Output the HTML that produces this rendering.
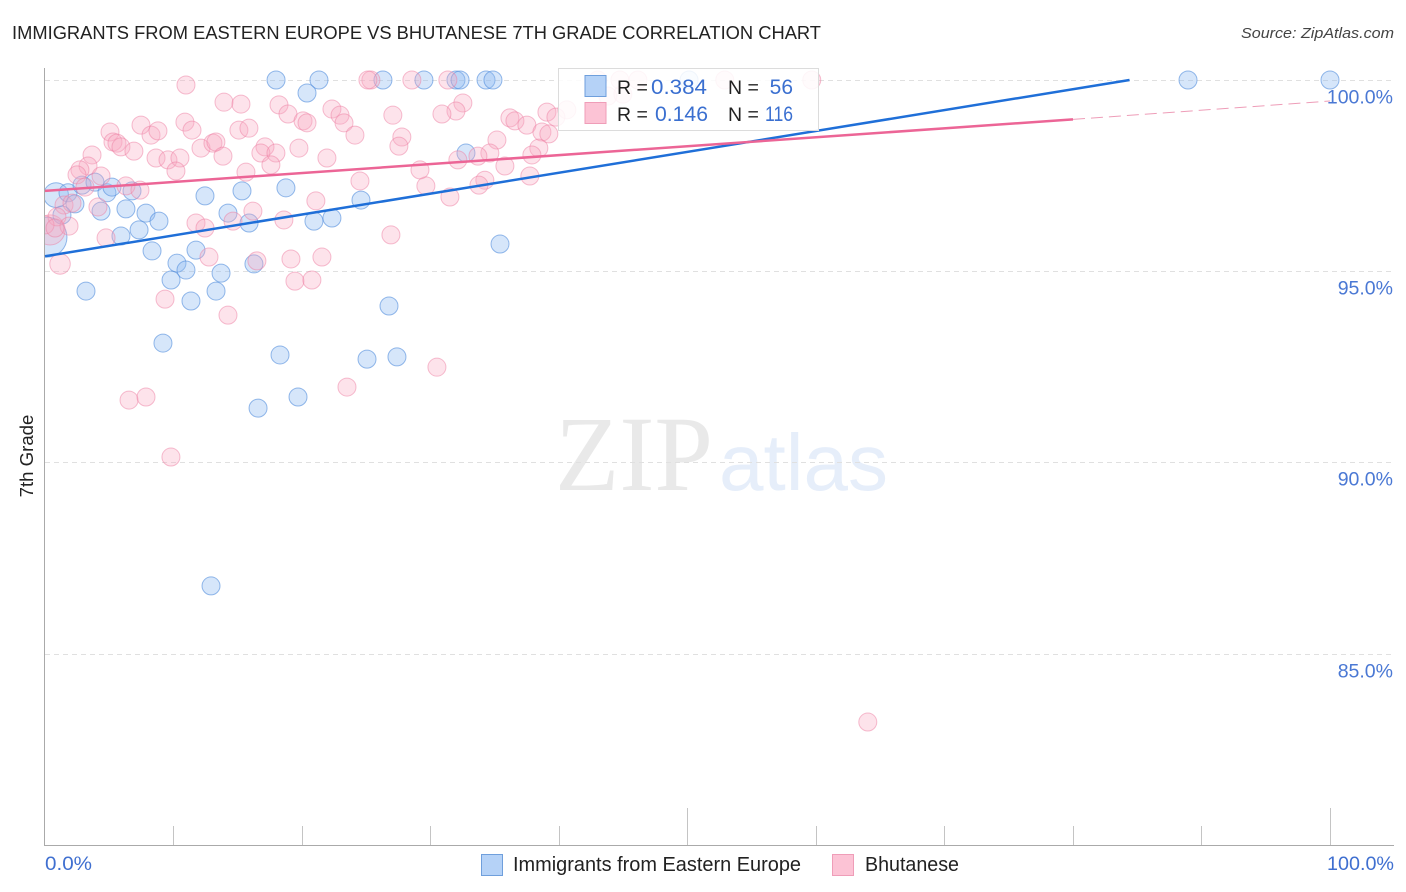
<!DOCTYPE html>
<html lang="en">
<head>
<meta charset="utf-8">
<title>Immigrants from Eastern Europe vs Bhutanese 7th Grade Correlation Chart</title>
<style>
html,body{margin:0;padding:0;background:#fff;width:1406px;height:892px;overflow:hidden}
svg{display:block}
text{font-family:"Liberation Sans",sans-serif}
</style>
</head>
<body>
<svg id="chart" width="1406" height="892" viewBox="0 0 1406 892" xmlns="http://www.w3.org/2000/svg">
  <defs>
    <clipPath id="plot-clip"><rect x="45" y="50" width="1361" height="796"/></clipPath>
  </defs>
  <text x="12" y="39" font-size="18.6" fill="#222" textLength="809" lengthAdjust="spacingAndGlyphs">IMMIGRANTS FROM EASTERN EUROPE VS BHUTANESE 7TH GRADE CORRELATION CHART</text>
  <text x="1394" y="38" font-size="15" font-style="italic" fill="#444" text-anchor="end" textLength="153" lengthAdjust="spacingAndGlyphs">Source: ZipAtlas.com</text>
  <text x="555" y="490" font-size="107" fill="#e9e9e9" textLength="158" lengthAdjust="spacingAndGlyphs" style="font-family:'Liberation Serif',serif">ZIP</text>
  <text x="719" y="490" font-size="80" fill="#e6eefa">atlas</text>
  <g id="grid"></g>
  <g id="axes"></g>
  <g id="blue-points" clip-path="url(#plot-clip)"></g>
  <g id="pink-points" clip-path="url(#plot-clip)"></g>
  <g id="trends"></g>
  <text transform="translate(33,456) rotate(-90)" font-size="18.6" fill="#222" text-anchor="middle">7th Grade</text>
  <g>
    <rect x="558.5" y="68.5" width="260" height="62" fill="#fff" fill-opacity="0.86" stroke="#dcdcdc"/>
    <rect x="585" y="75.500" width="21" height="21" fill="#b5d2f7" stroke="#6f9fdc"/>
    <rect x="585" y="102.500" width="21" height="21" fill="#fcc3d5" stroke="#ef9db8"/>
    <text x="617" y="94" font-size="19.500" fill="#222">R =</text>
    <text x="651" y="94" font-size="21" fill="#3a6fd0" textLength="56" lengthAdjust="spacingAndGlyphs">0.384</text>
    <text x="728" y="94" font-size="19.500" fill="#222">N =</text>
    <text x="793" y="94" font-size="21" fill="#3a6fd0" text-anchor="end">56</text>
    <text x="617" y="121" font-size="19.500" fill="#222">R =</text>
    <text x="655" y="121" font-size="21" fill="#3a6fd0" textLength="53" lengthAdjust="spacingAndGlyphs">0.146</text>
    <text x="728" y="121" font-size="19.500" fill="#222">N =</text>
    <text x="765" y="121" font-size="21" fill="#3a6fd0" textLength="28" lengthAdjust="spacingAndGlyphs">116</text>
  </g>
  <text x="45" y="870" font-size="19" fill="#3f6fd0" textLength="47" lengthAdjust="spacingAndGlyphs">0.0%</text>
  <text x="1394" y="870" font-size="19" fill="#3f6fd0" text-anchor="end" textLength="67" lengthAdjust="spacingAndGlyphs">100.0%</text>
  <g>
    <rect x="481.500" y="854.500" width="21" height="21" fill="#b5d2f7" stroke="#6f9fdc"/>
    <text x="513" y="871" font-size="20" fill="#222" textLength="288" lengthAdjust="spacingAndGlyphs">Immigrants from Eastern Europe</text>
    <rect x="832.500" y="854.500" width="21" height="21" fill="#fcc3d5" stroke="#ef9db8"/>
    <text x="865" y="871" font-size="20" fill="#222" textLength="94" lengthAdjust="spacingAndGlyphs">Bhutanese</text>
  </g>
</svg>
<script>
const yTicks = [100, 95, 90, 85];
const yTickLabels = ["100.0%", "95.0%", "90.0%", "85.0%"];
const xTicks = [10, 20, 30, 40, 50, 60, 70, 80, 90, 100];
const xMajorTicks = [50, 100];

const blueX = [0.86,0.16,1.79,2.88,2.33,1.32,3.89,4.82,5.21,4.36,6.30,7.86,8.87,5.91,7.32,8.33,6.77,12.45,15.33,18.75,14.24,15.88,20.93,22.33,24.59,11.75,10.27,10.97,9.81,11.36,13.31,13.70,16.26,3.19,9.18,18.29,25.06,27.39,26.77,16.58,19.69,12.92,35.41,32.76,17.98,21.32,20.39,26.30,29.49,31.98,32.30,34.32,34.86,88.95,100,50.12];
const blueY = [96.99,95.89,97.05,97.25,96.76,96.47,97.33,97.05,97.20,96.57,96.63,96.52,96.31,95.92,96.08,95.53,97.10,96.97,97.10,97.18,96.52,96.26,96.31,96.39,96.86,95.55,95.21,95.03,94.77,94.22,94.48,94.95,95.19,94.48,93.12,92.81,92.70,92.76,94.09,91.42,91.71,86.77,95.71,98.09,100,100,99.66,100,100,100,100,100,100,100,100,100];
const blueWeights = [1.9,4.9];

const pinkX = [0.39,1.17,10.97,13.93,15.25,18.21,18.91,20.08,20.39,22.33,22.96,23.27,5.06,7.47,8.25,8.79,5.29,5.60,5.91,6.92,8.64,9.57,10.50,10.19,10.89,11.44,12.14,13.07,13.30,13.85,15.09,15.87,15.64,17.12,16.80,17.97,17.58,19.76,21.94,3.66,3.35,2.72,2.49,3.11,4.36,6.30,7.39,1.48,0.93,1.87,4.12,4.75,11.75,12.45,12.76,14.63,16.18,16.49,18.59,21.08,19.14,21.55,19.45,20.77,9.34,14.24,24.51,26.92,30.50,23.50,6.54,7.86,9.80,64.03,25.36,25.13,28.55,31.35,43.02,44.74,46.14,52.90,59.67,43.80,44.97,40.61,39.06,39.76,36.18,36.57,37.50,38.67,39.21,35.17,38.43,37.89,34.62,33.69,32.13,35.79,37.73,34.23,33.77,31.51,29.64,29.18,32.52,31.98,30.89,27.07,27.77,27.54,24.12,0,0.78,2.10];
const pinkY = [96.08,95.19,99.87,99.42,99.37,99.35,99.11,98.93,98.88,99.24,99.08,98.88,98.64,98.82,98.56,98.67,98.38,98.35,98.25,98.14,97.96,97.91,97.96,97.62,98.90,98.69,98.22,98.35,98.38,98.01,98.69,98.74,97.59,98.25,98.09,98.09,97.78,98.22,97.96,98.04,97.75,97.65,97.52,97.20,97.49,97.23,97.12,96.73,96.42,96.18,96.68,95.87,96.26,96.13,95.37,96.31,96.57,95.27,96.34,96.84,95.32,95.37,94.74,94.77,94.27,93.85,97.36,95.95,92.49,91.97,91.63,91.71,90.14,83.21,100,100,100,100,100,100,100,100,100,99.58,99.63,99.22,99.16,99.03,99.01,98.93,98.82,98.64,98.59,98.43,98.22,98.04,98.09,98.01,97.91,97.75,97.49,97.38,97.25,96.94,97.23,97.65,99.40,99.19,99.11,99.08,98.51,98.27,98.56,96.21,96.13,96.78];
const pinkWeights = [2.8,1.3];

const blueTrendX = [0, 84.4];
const blueTrendY = [95.39, 100];
const pinkTrendX = [0, 80];
const pinkTrendY = [97.10, 98.97];
const pinkTrendExtX = [80, 100];
const pinkTrendExtY = [98.97, 99.45];

const NS = "http://www.w3.org/2000/svg";
function xScale(v) { return 45 + v * 12.85; }
function yScale(v) { return 80 + (100 - v) * 38.24; }
function make(tag, attrs, parent) {
  const el = document.createElementNS(NS, tag);
  for (const k in attrs) el.setAttribute(k, attrs[k]);
  parent.appendChild(el);
  return el;
}

const grid = document.getElementById("grid");
yTicks.forEach(function (t, i) {
  const y = Math.round(yScale(t)) + 0.5;
  const line = make("line", {x1: 45, x2: 1394, y1: y, y2: y, stroke: "#e0e0e0", "stroke-width": 1, "stroke-dasharray": "5 4"}, grid);
  
  
  const label = make("text", {x: 1393, y: y + 23, "font-size": 19.5, fill: "#4a78d4", "text-anchor": "end"}, grid);
  label.textContent = yTickLabels[i];
  
  
});

const axes = document.getElementById("axes");
const yAxis = make("line", {x1: 44.5, x2: 44.5, y1: 68, y2: 846, stroke: "#aaa", "stroke-width": 1}, axes);


const xAxis = make("line", {x1: 44, x2: 1394, y1: 845.5, y2: 845.5, stroke: "#aaa", "stroke-width": 1}, axes);


xTicks.forEach(function (t) {
  const x = Math.floor(xScale(t)) + 0.5;
  const top = xMajorTicks.indexOf(t) >= 0 ? 808 : 826;
  const tick = make("line", {x1: x, x2: x, y1: top, y2: 845, stroke: "#c4c4c4", "stroke-width": 1}, axes);
  
  
});

function drawPoints(groupId, xs, ys, weights, fill, stroke) {
  const g = document.getElementById(groupId);
  xs.forEach(function (v, i) {
    const w = weights[i] || 1;
    const c = make("circle", {cx: xScale(v), cy: yScale(ys[i]), r: 9 * Math.sqrt(w), fill: fill, stroke: stroke, "stroke-width": 1}, g);
    
    
  });
}
drawPoints("blue-points", blueX, blueY, blueWeights, "rgba(140,185,240,0.36)", "rgba(80,140,220,0.6)");
drawPoints("pink-points", pinkX, pinkY, pinkWeights, "rgba(250,170,195,0.33)", "rgba(238,125,162,0.5)");

const trends = document.getElementById("trends");
const blueLine = make("line", {x1: xScale(blueTrendX[0]), y1: yScale(blueTrendY[0]), x2: xScale(blueTrendX[1]), y2: yScale(blueTrendY[1]), stroke: "#1f6fd8", "stroke-width": 2.5}, trends);


const pinkLine = make("line", {x1: xScale(pinkTrendX[0]), y1: yScale(pinkTrendY[0]), x2: xScale(pinkTrendX[1]), y2: yScale(pinkTrendY[1]), stroke: "#ec6596", "stroke-width": 2.5}, trends);


const pinkExt = make("line", {x1: xScale(pinkTrendExtX[0]), y1: yScale(pinkTrendExtY[0]), x2: xScale(pinkTrendExtX[1]), y2: yScale(pinkTrendExtY[1]), stroke: "#ee9db8", "stroke-width": 1, "stroke-dasharray": "12 6"}, trends);


</script>
</body>
</html>
